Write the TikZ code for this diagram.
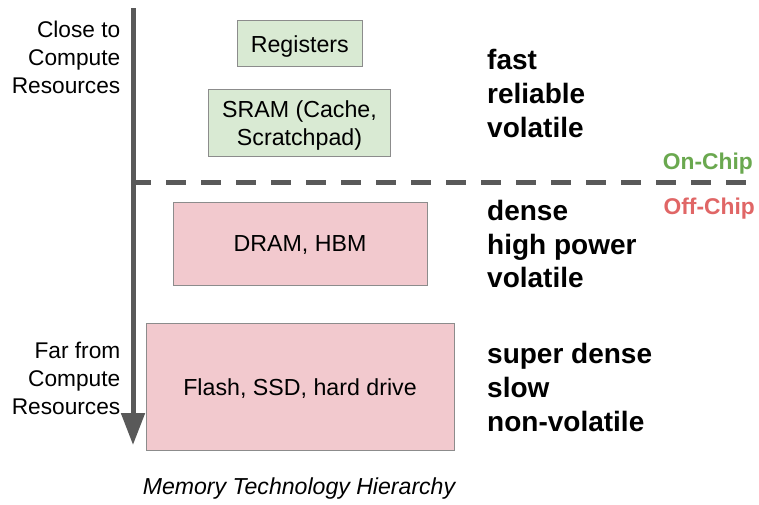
\documentclass[tikz,border=0pt]{standalone}
\usepackage{fontspec}
\setmainfont{Liberation Sans}
\usetikzlibrary{arrows.meta}
\definecolor{axisgray}{HTML}{595959}
\definecolor{boxborder}{HTML}{8C8C8C}
\definecolor{greenfill}{HTML}{D9EAD3}
\definecolor{redfill}{HTML}{F2C9CE}
\definecolor{chipgreen}{HTML}{6AA84F}
\definecolor{chipred}{HTML}{E06666}
\begin{document}
\begin{tikzpicture}[x=1pt,y=-1pt,
  membox/.style={draw=boxborder, line width=1pt, inner sep=0pt, text depth=0pt,
    align=center, font=\fontsize{23.2}{28}\selectfont},
  greenbox/.style={membox, fill=greenfill},
  redbox/.style={membox, fill=redfill},
  sidelabel/.style={inner sep=0pt, align=right, font=\fontsize{22.7}{28}\selectfont},
  proplabel/.style={inner sep=0pt, align=left, font=\fontsize{28}{33.8}\selectfont\bfseries},
  chiplabel/.style={inner sep=0pt, font=\fontsize{22.8}{27}\selectfont\bfseries},
  axisline/.style={draw=axisgray, line width=5pt},
]
\useasboundingbox (0,0) rectangle (759,504);

% boxes
\node[greenbox, minimum width=125pt, minimum height=46pt] (reg) at (299.8,43.7) {Registers};
\node[greenbox, minimum width=182pt, minimum height=67pt] (sram) at (299.5,123) {SRAM (Cache,\\Scratchpad)};
\node[redbox, minimum width=254pt, minimum height=83pt] (dram) at (300,243.5) {DRAM, HBM};
\node[redbox, minimum width=308pt, minimum height=127pt] (flash) at (300,386.7) {Flash, SSD, hard drive};

% axis arrow
\coordinate (axtop) at (133,8);
\coordinate (axbot) at (133,445);
\draw[axisline, -{Triangle[length=32pt,width=23pt]}] (axtop) -- (axbot);

% dashed on/off chip line
\coordinate (dashL) at (131,182);
\coordinate (dashR) at (746,182);
\draw[axisline, dash pattern=on 20pt off 15pt] (dashL) -- (dashR);

% side labels
\node[sidelabel, anchor=east] (close) at (120.5,57.5) {Close to\\Compute\\Resources};
\node[sidelabel, anchor=east] (far) at (120.5,378) {Far from\\Compute\\Resources};

% property labels
\node[proplabel, anchor=west] (p1) at (487,93.6) {fast\\reliable\\volatile};
\node[proplabel, anchor=west] (p2) at (487,244) {dense\\high power\\volatile};
\node[proplabel, anchor=west] (p3) at (487,387.5) {super dense\\slow\\non-volatile};

% chip labels
\node[chiplabel, text=chipgreen, anchor=base east] (onchip) at (753,169.3) {On-Chip};
\node[chiplabel, text=chipred, anchor=base east] (offchip) at (755,214) {Off-Chip};

% caption
\node[inner sep=0pt, anchor=base, font=\fontsize{23.1}{27}\selectfont\itshape] (caption) at (299,494.3) {Memory Technology Hierarchy};
\end{tikzpicture}
\end{document}
